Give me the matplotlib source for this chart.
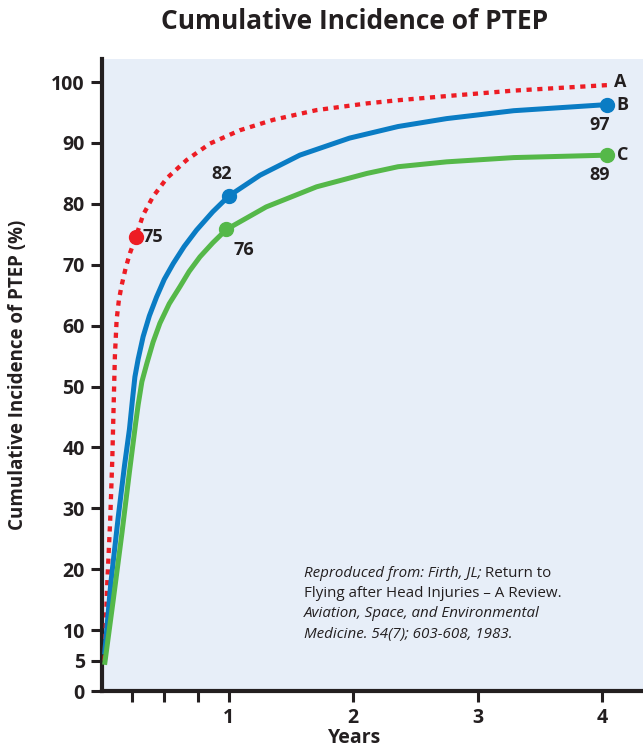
import matplotlib
matplotlib.use("Agg")
import matplotlib.pyplot as plt

# Values (years, cumulative incidence %)
years_a = [0.0, 0.02, 0.045, 0.062, 0.073, 0.083, 0.097, 0.115, 0.137, 0.17, 0.204, 0.252, 0.31, 0.39,
           0.5, 0.66, 0.847, 1.09, 1.356, 1.705, 2.11, 2.35, 2.75, 3.29, 4.04]
inc_a = [5, 17, 28, 38, 47, 55, 61, 64.2, 66.6, 69.5, 71.9, 74.6, 78.2, 81.2,
         84.2, 87.2, 89.9, 92.1, 93.8, 95.4, 96.5, 97.0, 97.7, 98.6, 99.5]

years_b = [0.0, 0.05, 0.11, 0.16, 0.2, 0.225, 0.244, 0.27, 0.31, 0.36, 0.418, 0.48, 0.552, 0.64,
           0.74, 0.87, 1.0, 1.25, 1.57, 1.97, 2.36, 2.75, 3.29, 4.04]
inc_b = [6, 17.7, 28.6, 37, 43, 48, 51.6, 54.5, 58.2, 61.6, 64.7, 67.6, 70.2, 73,
         75.7, 78.7, 81.3, 84.7, 88.0, 90.8, 92.7, 94.0, 95.3, 96.3]

years_c = [0.0, 0.07, 0.14, 0.2, 0.25, 0.27, 0.3, 0.34, 0.39, 0.445, 0.52, 0.606, 0.68, 0.767, 0.87,
           0.98, 1.3, 1.705, 2.11, 2.36, 2.75, 3.29, 4.04]
inc_c = [4.3, 15, 26, 36, 44, 47, 50.8, 53.8, 57.3, 60.4, 63.6, 66.4, 68.9, 71.3, 73.6,
         75.8, 79.5, 82.8, 85.0, 86.1, 86.9, 87.6, 88.0]

# highlighted points: (year, value, label)
marks_a = [(0.252, 74.6, "75")]
marks_b = [(1.0, 81.3, "82"), (4.04, 96.3, "97")]
marks_c = [(0.98, 75.8, "76"), (4.04, 88.0, "89")]

y_ticks = [0, 5, 10, 20, 30, 40, 50, 60, 70, 80, 90, 100]
x_ticks = [1, 2, 3, 4]
x_minor = [0.22, 0.48, 0.75]

red = "#ed1c24"
blue = "#0a7cc4"
green = "#55b849"
bg = "#e7eef8"
ink = "#231f20"

plt.rcParams['font.family'] = ['Open Sans', 'DejaVu Sans']

fig = plt.figure(figsize=(6.43, 7.48), dpi=100)
ax = fig.add_axes([0.158, 0.0762, 0.842, 0.845])
ax.set_facecolor(bg)

ax.plot(years_a, inc_a, color=red, lw=3.1, linestyle=(0, (1.2, 1.3)), dash_capstyle='butt', zorder=3)
ax.plot(years_b, inc_b, color=blue, lw=3.6, solid_capstyle='butt', solid_joinstyle='round', zorder=3)
ax.plot(years_c, inc_c, color=green, lw=3.6, solid_capstyle='butt', solid_joinstyle='round', zorder=3)

for pts, col in [(marks_a, red), (marks_b, blue), (marks_c, green)]:
    ax.plot([p[0] for p in pts], [p[1] for p in pts], 'o', color=col, ms=10, zorder=4)

lab = dict(fontsize=13, fontweight='bold', color=ink, textcoords='offset points')
ax.annotate(marks_a[0][2], marks_a[0][:2], xytext=(5, 0), ha='left', va='center', **lab)
ax.annotate(marks_b[0][2], marks_b[0][:2], xytext=(-5, 9), ha='center', va='bottom', **lab)
ax.annotate(marks_c[0][2], marks_c[0][:2], xytext=(5, -8), ha='left', va='top', **lab)
ax.annotate(marks_b[1][2], marks_b[1][:2], xytext=(-5, -8), ha='center', va='top', **lab)
ax.annotate(marks_c[1][2], marks_c[1][:2], xytext=(-5, -8), ha='center', va='top', **lab)
ax.annotate("A", (years_a[-1], inc_a[-1]), xytext=(5, 2), ha='left', va='center', **lab)
ax.annotate("B", marks_b[1][:2], xytext=(7, 0), ha='left', va='center', **lab)
ax.annotate("C", marks_c[1][:2], xytext=(7, 0), ha='left', va='center', **lab)

ax.set_xlim(-0.024, 4.33)
ax.set_ylim(0, 103.8)
ax.set_yticks(y_ticks)
ax.set_xticks(x_ticks)
ax.set_xticks(x_minor, minor=True)
ax.tick_params(axis='both', which='both', length=8, width=2.2, color=ink, labelsize=14, pad=4)
for t in ax.get_xticklabels() + ax.get_yticklabels():
    t.set_fontweight('bold')
    t.set_color(ink)

for s in ['top', 'right']:
    ax.spines[s].set_visible(False)
for s in ['left', 'bottom']:
    ax.spines[s].set_linewidth(3)
    ax.spines[s].set_color(ink)

fig.text(0.552, 0.971, "Cumulative Incidence of PTEP", ha='center', va='center',
         fontsize=19, fontweight='bold', color=ink)
fig.text(0.028, 0.4987, "Cumulative Incidence of PTEP (%)", rotation=90,
         ha='center', va='center', fontsize=13.5, fontweight='bold', color=ink)
fig.text(0.552, 0.014, "Years", ha='center', va='center', fontsize=14, fontweight='bold', color=ink)

# citation block, italic / regular mix
cx, cy, dy = 1.6, 18.8, 3.35
cit = dict(fontsize=10.9, color=ink, va='baseline')
t1 = ax.text(cx, cy, "Reproduced from: Firth, JL;", style='italic', **cit)
ax.annotate(" Return to", xy=(1, 0), xycoords=t1, ha='left', va='bottom', fontsize=10.9, color=ink)
ax.text(cx, cy - dy, "Flying after Head Injuries \u2013 A Review.", **cit)
ax.text(cx, cy - 2 * dy, "Aviation, Space, and Environmental", style='italic', **cit)
ax.text(cx, cy - 3 * dy, "Medicine. 54(7); 603-608, 1983.", style='italic', **cit)

fig.savefig("out.png", dpi=100)
